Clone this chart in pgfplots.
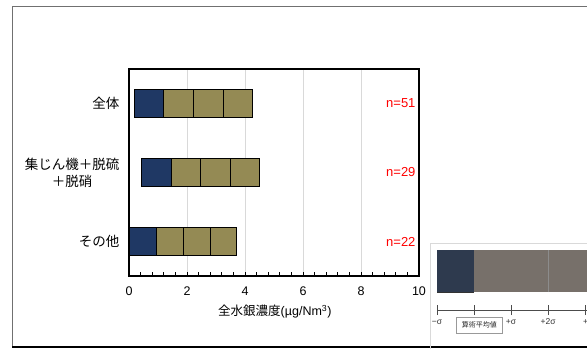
\documentclass[border=0pt]{standalone}
\usepackage{fontspec}
\setmainfont{Liberation Sans}
\newfontfamily\cjk{Noto Sans CJK JP}
\usepackage{pgfplots}
\pgfplotsset{compat=1.18}
\definecolor{navyb}{HTML}{1F3864}
\definecolor{oliveb}{HTML}{948A54}
\definecolor{legdark}{HTML}{2E3A4E}
\definecolor{leggray}{HTML}{77706A}
\definecolor{framegray}{HTML}{707070}
\begin{document}
\begin{tikzpicture}[x=1pt,y=1pt]
\useasboundingbox (0,0) rectangle (587,349);
\draw[framegray, line width=1pt] (587,342) -- (12,342) -- (12,2);
\draw[black, line width=1.2pt] (12,2) -- (587,2);
\begin{axis}[at={(129pt,73pt)}, anchor=south west, scale only axis,
  width=290pt, height=207pt,
  xmin=0, xmax=10, ymin=-0.5, ymax=2.5, y dir=reverse,
  xbar stacked, bar width=28pt, bar shift=0pt,
  xtick={0,2,4,6,8,10}, minor x tick num=4, xtick pos=bottom, tick align=inside,
  major tick length=4pt, minor tick length=4pt,
  tick style={black, line width=0.8pt},
  ytick={0,1,2}, ytick style={draw=none},
  yticklabels={{\cjk 全体},{\cjk 集じん機＋脱硫\\\cjk ＋脱硝},{\cjk その他}},
  yticklabel style={align=center, font=\fontsize{13.5}{17}\selectfont, xshift=-6pt},
  xticklabel style={font=\fontsize{12.5}{14}\selectfont, yshift=-7pt},
  /pgf/number format/assume math mode=true,
  xmajorgrids, major x grid style={black!15, line width=0.8pt},
  axis line style={black, line width=1.5pt},
  xlabel={{\cjk 全水銀濃度}(µg/Nm\textsuperscript{3})},
  xlabel style={at={(axis description cs:0.503,0)}, anchor=center, yshift=-36pt,
    font=\fontsize{12.5}{14}\selectfont},
  clip=false,
]
\addplot[draw=none, fill=none] coordinates {(0.18,0) (0.43,1) (0.03,2)};
\addplot[fill=navyb, draw=black, line width=0.8pt] coordinates {(1.02,0) (1.02,1) (0.92,2)};
\addplot[fill=oliveb, draw=black, line width=0.8pt] coordinates {(1.02,0) (1.02,1) (0.92,2)};
\addplot[fill=oliveb, draw=black, line width=0.8pt] coordinates {(1.02,0) (1.02,1) (0.92,2)};
\addplot[fill=oliveb, draw=black, line width=0.8pt] coordinates {(1.02,0) (1.02,1) (0.92,2)};
\node[anchor=east, text=red, font=\fontsize{13}{15}\selectfont] at (axis cs:10,0) {n=51};
\node[anchor=east, text=red, font=\fontsize{13}{15}\selectfont] at (axis cs:10,1) {n=29};
\node[anchor=east, text=red, font=\fontsize{13}{15}\selectfont] at (axis cs:10,2) {n=22};
\end{axis}
\draw[black!15, line width=0.8pt] (430,0) -- (430,106) -- (587,106);
\begin{axis}[at={(430pt,0pt)}, anchor=south west, scale only axis,
  width=157pt, height=106pt, xmin=-1.19, xmax=3.05, ymin=0, ymax=106,
  axis lines=none, clip=false]
\addplot[fill=leggray, draw=none] coordinates {(0,57) (3.05,57) (3.05,99) (0,99)} -- cycle;
\addplot[fill=legdark, draw=none] coordinates {(-1,57) (0,57) (0,99) (-1,99)} -- cycle;
\addplot[black!80, line width=0.8pt] coordinates {(-1,57) (0,57)};
\addplot[black!45, line width=0.6pt] coordinates {(2,57) (2,99)};
\addplot[black!70, line width=0.8pt] coordinates {(-1,39) (3.05,39)};
\addplot[black!70, line width=0.8pt] coordinates {(-1,34) (-1,44)};
\addplot[black!70, line width=0.8pt] coordinates {(0,34) (0,44)};
\addplot[black!70, line width=0.8pt] coordinates {(1,34) (1,44)};
\addplot[black!70, line width=0.8pt] coordinates {(2,34) (2,44)};
\addplot[black!70, line width=0.8pt] coordinates {(3,34) (3,44)};
\node[font=\fontsize{8.5}{9}\selectfont, text=black!80] at (axis cs:-1,27) {−σ};
\node[font=\fontsize{8.5}{9}\selectfont, text=black!80] at (axis cs:1,27) {+σ};
\node[font=\fontsize{8.5}{9}\selectfont, text=black!80] at (axis cs:2,27) {+2σ};
\node[font=\fontsize{8.5}{9}\selectfont, text=black!80, anchor=west] at (axis cs:2.85,27) {+3σ};
\node[draw=black!40, font=\fontsize{7}{8}\cjk\selectfont, text=black!85, inner sep=2pt, minimum height=16pt, minimum width=46pt] at (axis cs:0.14,24) {算術平均値};
\end{axis}
\end{tikzpicture}
\end{document}
